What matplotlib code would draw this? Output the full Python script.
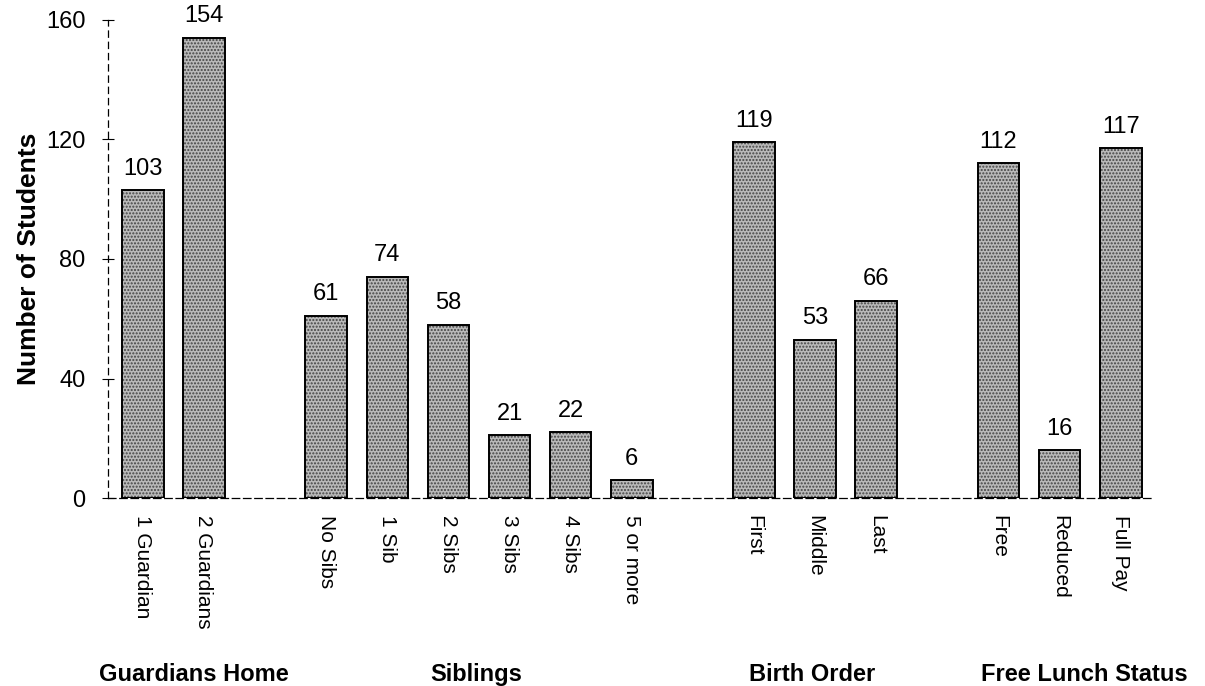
import matplotlib.pyplot as plt

plt.rcParams['font.family'] = ['Liberation Sans', 'DejaVu Sans']

# Counts of students by group
categorias = ['1 Guardian', '2 Guardians',
              'No Sibs', '1 Sib', '2 Sibs', '3 Sibs', '4 Sibs', '5 or more',
              'First', 'Middle', 'Last',
              'Free', 'Reduced', 'Full Pay']
valores = [103, 154, 61, 74, 58, 21, 22, 6, 119, 53, 66, 112, 16, 117]
posiciones = [0, 1, 3, 4, 5, 6, 7, 8, 10, 11, 12, 14, 15, 16]

grupos = ['Guardians Home', 'Siblings', 'Birth Order', 'Free Lunch Status']
pos_grupos = [0.83, 5.45, 10.95, 15.4]

fig = plt.figure(figsize=(12.05, 6.86), dpi=100)
ax = fig.add_axes([0.0896, 0.274, 0.8684, 0.697])

# Stippled fill first, then the black outline on top
ax.bar(posiciones, valores, width=0.68, color='#bababa', hatch='.....',
       edgecolor='#444444', linewidth=0)
ax.bar(posiciones, valores, width=0.68, fill=False, edgecolor='black', linewidth=1.4)

for x, v in zip(posiciones, valores):
    ax.text(x, v + 3.5, str(v), ha='center', va='bottom', fontsize=17)

ax.set_xlim(-0.57, 16.55)
ax.set_ylim(0, 160)
ax.set_yticks([0, 40, 80, 120, 160])
ax.tick_params(axis='y', direction='inout', length=8, labelsize=17, pad=12)
ax.set_xticks(posiciones)
ax.set_xticklabels(categorias, rotation=270, fontsize=15, va='top', ha='center')
ax.tick_params(axis='x', length=0, pad=12)

ax.set_ylabel('Number of Students', fontsize=19, fontweight='bold', labelpad=4)

for s in ['top', 'right']:
    ax.spines[s].set_visible(False)
ax.spines['left'].set_linestyle((0, (5, 4)))
ax.spines['bottom'].set_linestyle((0, (6, 3)))
ax.spines['left'].set_linewidth(0.9)
ax.spines['bottom'].set_linewidth(0.9)

for g, x in zip(grupos, pos_grupos):
    ax.text(x, -0.37, g, transform=ax.get_xaxis_transform(), ha='center',
            va='center', fontsize=17, fontweight='bold')

fig.savefig('out.png', dpi=100)
